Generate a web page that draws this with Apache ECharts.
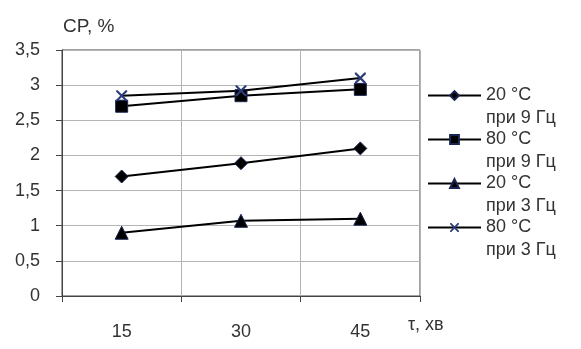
<!DOCTYPE html>
<html>
<head>
<meta charset="utf-8">
<script src="https://cdn.jsdelivr.net/npm/echarts@6/dist/echarts.min.js"></script>
<style>
  html, body { margin: 0; padding: 0; background: #fff; }
  #chart { width: 581px; height: 349px; }
</style>
</head>
<body>
<div id="chart"></div>
<script>
var times = [15, 30, 45];
var names = ['20 °C\nпри 9 Гц', '80 °C\nпри 9 Гц', '20 °C\nпри 3 Гц', '80 °C\nпри 3 Гц'];
var cp20at9 = [1.7, 1.89, 2.1];
var cp80at9 = [2.7, 2.85, 2.94];
var cp20at3 = [0.9, 1.07, 1.1];
var cp80at3 = [2.85, 2.92, 3.1];

var crossPath = 'path://M0,0L1.4,0L5,3.6L8.6,0L10,0L10,1.4L6.4,5L10,8.6L10,10L8.6,10L5,6.4L1.4,10L0,10L0,8.6L3.6,5L0,1.4Z';

function pairs(vals) {
  return times.map(function (t, i) { return [t, vals[i]]; });
}

function makeSeries(name, vals, symbol, size, color) {
  return {
    name: name,
    type: 'line',
    data: pairs(vals),
    symbol: symbol,
    symbolSize: size,
    lineStyle: { color: '#000', width: 2 },
    itemStyle: { color: color, borderColor: '#1a2450', borderWidth: symbol === crossPath ? 0 : 1 },
    z: 3
  };
}

var chart = echarts.init(document.getElementById('chart'));
chart.setOption({
  animation: false,
  backgroundColor: '#fff',
  textStyle: { fontFamily: 'Liberation Sans' },
  title: [
    { text: 'CP, %', left: 58, top: 12, textStyle: { fontSize: 19, fontWeight: 'normal', color: '#333' } },
    { text: 'τ, хв', left: 403, top: 311, textStyle: { fontSize: 18, fontWeight: 'normal', color: '#333' } }
  ],
  grid: {
    left: 62, top: 50, right: 161, bottom: 53,
    show: true, borderColor: '#444', borderWidth: 1
  },
  legend: {
    orient: 'vertical',
    left: 422,
    top: 56,
    itemWidth: 53,
    itemHeight: 11,
    itemGap: -25,
    formatter: function (name) { return '\n' + name; },
    textStyle: { fontSize: 18, color: '#333', lineHeight: 23 },
    data: names
  },
  xAxis: {
    type: 'value',
    min: 7.5,
    max: 52.5,
    interval: 7.5,
    axisLine: { lineStyle: { color: '#444' } },
    axisTick: { show: true, length: 6, customValues: [7.5, 22.5, 37.5, 52.5], lineStyle: { color: '#444' } },
    axisLabel: { customValues: times, margin: 27, fontSize: 18, color: '#333' },
    splitLine: { show: true, lineStyle: { color: '#b4b4b4' } }
  },
  yAxis: {
    type: 'value',
    min: 0,
    max: 3.5,
    interval: 0.5,
    axisLine: { show: true, lineStyle: { color: '#444' } },
    axisTick: { show: true, length: 6, lineStyle: { color: '#444' } },
    axisLabel: {
      margin: 22, fontSize: 18, color: '#333',
      formatter: function (v) { return String(v).replace('.', ','); }
    },
    splitLine: { show: true, lineStyle: { color: '#b4b4b4' } }
  },
  series: [
    makeSeries(names[0], cp20at9, 'diamond', 13, '#000'),
    makeSeries(names[1], cp80at9, 'rect', 12, '#000'),
    makeSeries(names[2], cp20at3, 'triangle', 13, '#000'),
    makeSeries(names[3], cp80at3, crossPath, 11, '#2b3d78')
  ]
});
</script>
</body>
</html>
